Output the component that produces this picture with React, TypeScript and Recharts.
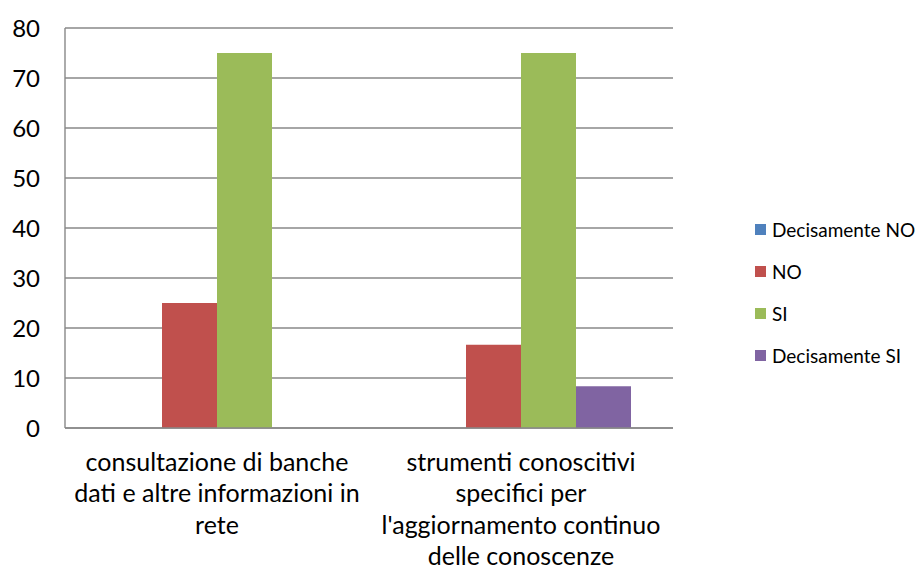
import { BarChart, Bar, XAxis, YAxis, CartesianGrid } from "recharts"

// categories, split into the lines shown under the axis
const categories = [
  "consultazione di banche dati e altre informazioni in rete",
  "strumenti conoscitivi specifici per l'aggiornamento continuo delle conoscenze",
]
const categoryLines = [
  ["consultazione di banche", "dati e altre informazioni in", "rete"],
  ["strumenti conoscitivi", "specifici per", "l'aggiornamento continuo", "delle conoscenze"],
]

const decisamenteNo = [0, 0]
const no = [25, 16.67]
const si = [75, 75]
const decisamenteSi = [0, 8.33]

const yTicks = [0, 10, 20, 30, 40, 50, 60, 70, 80]

const series = [
  { key: "decNo", name: "Decisamente NO", color: "#4F81BD" },
  { key: "no", name: "NO", color: "#C0504D" },
  { key: "si", name: "SI", color: "#9BBB59" },
  { key: "decSi", name: "Decisamente SI", color: "#8064A2" },
]

const data = categories.map((c, i) => ({
  name: c,
  decNo: decisamenteNo[i],
  no: no[i],
  si: si[i],
  decSi: decisamenteSi[i],
}))

const FONT = "Lato, 'Liberation Sans', sans-serif"

const CategoryTick = (props: any) => {
  const { x, y, index } = props
  const lines = categoryLines[index] ?? []
  return (
    <text x={x} y={y} textAnchor="middle" style={{ fontSize: 25, fill: "#000", fontFamily: FONT }}>
      {lines.map((l, i) => (
        <tspan key={i} x={x} y={y + 35 + i * 31.3}>
          {l}
        </tspan>
      ))}
    </text>
  )
}

export default function App() {
  return (
    <div style={{ position: "absolute", left: 0, top: 0, width: 919, height: 571, background: "#fff" }}>
      <BarChart
        width={919}
        height={571}
        data={data}
        margin={{ top: 28, right: 246, bottom: 0, left: 0 }}
        barCategoryGap={42}
        barGap={0}
      >
        <CartesianGrid vertical={false} stroke="#888" strokeWidth={1.4} />
        <XAxis
          dataKey="name"
          height={143}
          axisLine={{ stroke: "#888", strokeWidth: 1.4 }}
          tickLine={false}
          tick={<CategoryTick />}
          interval={0}
        />
        <YAxis
          width={65}
          domain={[0, 80]}
          ticks={yTicks}
          interval={0}
          axisLine={{ stroke: "#888", strokeWidth: 1.4 }}
          tickLine={false}
          tickMargin={19}
          tick={{ fontSize: 24, fill: "#000", fontFamily: FONT }}
        />
        {series.map((s) => (
          <Bar key={s.key} dataKey={s.key} name={s.name} fill={s.color} isAnimationActive={false} />
        ))}
      </BarChart>

      {/* legend on the right */}
      <div style={{ position: "absolute", left: 755, top: 208, fontFamily: FONT, fontSize: 19, color: "#000" }}>
        {series.map((s) => (
          <div key={s.key} style={{ display: "flex", alignItems: "center", height: 42 }}>
            <span style={{ width: 11, height: 11, background: s.color, marginRight: 6 }} />
            {s.name}
          </div>
        ))}
      </div>
    </div>
  )
}
